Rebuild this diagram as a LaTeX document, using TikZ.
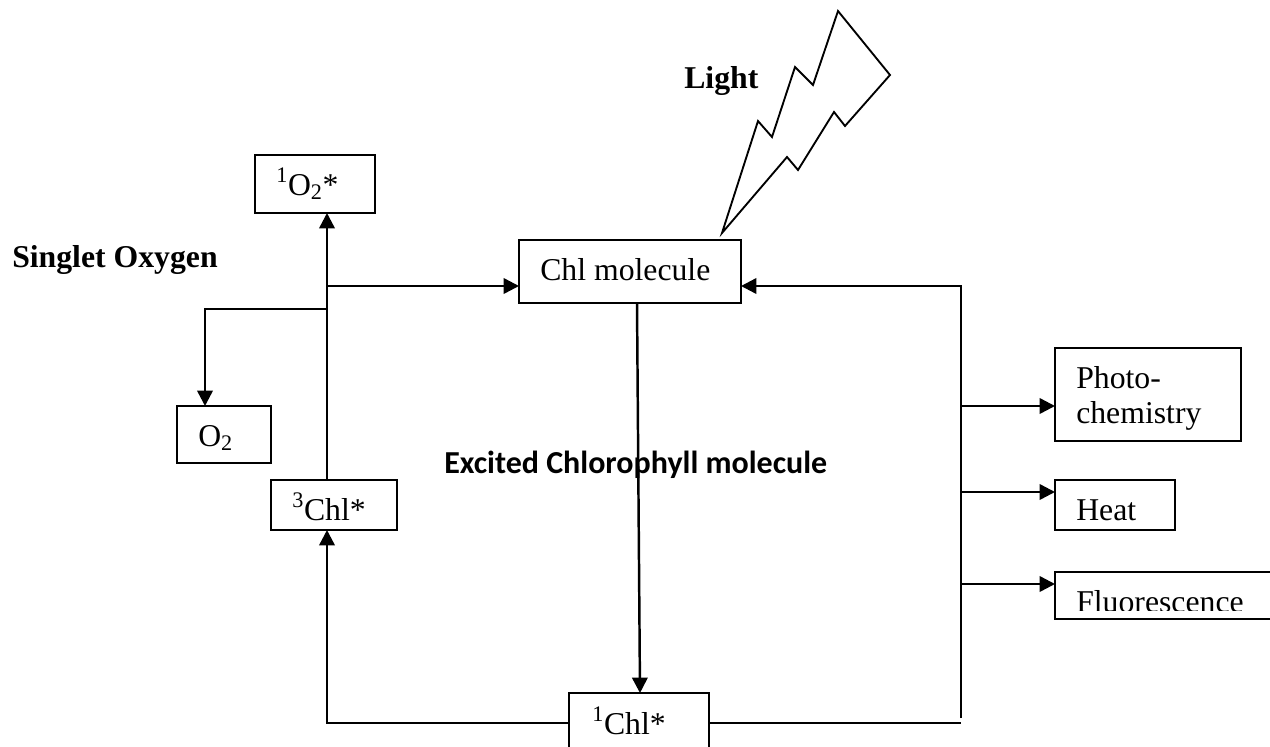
\documentclass[tikz,border=0pt]{standalone}
\usepackage{fontspec}
\setmainfont{Liberation Serif}
\newfontfamily\calib{Carlito}
\usetikzlibrary{arrows.meta,calc}
\tikzset{
  boxn/.style={draw=black,line width=1.7pt,inner sep=0pt},
  txt/.style={inner sep=0pt,anchor=base west,font=\fontsize{23.8}{28}\selectfont},
  boldt/.style={inner sep=0pt,anchor=base west,font=\fontsize{23.8}{28}\selectfont\bfseries},
  conn/.style={line width=1.85pt,draw=black},
  arr/.style={conn,-{Triangle[length=11.5pt,width=11.5pt]}},
  bolt/.style={draw=black,line width=1.4pt,line join=miter}
}
\newcommand{\rbox}[5]{\node[boxn,minimum width=#4*0.75pt-#2*0.75pt,minimum height=#5*0.75pt-#3*0.75pt] (#1) at ({(#2+#4)/2},{(#3+#5)/2}) {};}
\begin{document}
\begin{tikzpicture}[x=0.75pt,y=-0.75pt]
\clip (0,0) rectangle (1270,746);
\fill[white] (0,0) rectangle (1270,746);
% boxes
\rbox{otwo}{255}{155}{375}{213}
\rbox{o}{177}{406}{271}{463}
\rbox{tchl}{271}{480}{397}{530}
\rbox{chl}{519}{240}{741}{303}
\rbox{photo}{1055}{348}{1241}{441}
\rbox{heat}{1055}{480}{1175}{530}
\rbox{fluo}{1055}{572}{1300}{619}
\rbox{schl}{569}{693}{709}{753}
% texts
\node[txt] (totwo) at (276,195) {\textsuperscript{1}O\textsubscript{2}*};
\node[txt] (to) at (198,446) {O\textsubscript{2}};
\node[txt] (ttchl) at (292,520) {\textsuperscript{3}Chl*};
\node[txt] (tchlm) at (540,280) {Chl molecule};
\node[txt] (tphoto) at (1076,388) {Photo-};
\node[txt] (tchem) at (1076,423) {chemistry};
\node[txt] (theat) at (1076,520) {Heat};
\begin{scope}
\clip (1056,573) rectangle (1270,610);
\node[txt] (tfluo) at (1076,612) {Fluorescence};
\end{scope}
\node[txt] (tschl) at (592,734) {\textsuperscript{1}Chl*};
\node[boldt] (light) at (684,88) {Light};
\node[boldt] (sing) at (12,267) {Singlet Oxygen};
\node[inner sep=0pt,anchor=base west,font=\fontsize{24}{28}\selectfont\calib\bfseries] (exc) at (444,473) {Excited Chlorophyll molecule};
% junctions
\coordinate (ja) at (327,286);
\coordinate (jb) at (327,309);
\coordinate (jc) at (205,309);
\coordinate (td) at (327,480);
\coordinate (tu) at (327,213);
\coordinate (tl) at (327,530);
\coordinate (bl) at (327,723);
\coordinate (ca) at (637,303);
\coordinate (cb) at (640,693);
\coordinate (br) at (961,723);
\coordinate (brt) at (961,718);
\coordinate (tr) at (961,286);
\coordinate (cw) at (519,286);
\coordinate (ce) at (741,286);
\coordinate (ps) at (961,406);
\coordinate (pe) at (1055,406);
\coordinate (hs) at (961,492);
\coordinate (he) at (1055,492);
\coordinate (fs) at (961,584);
\coordinate (fe) at (1055,584);
\coordinate (oe) at (205,406);
% connectors
\draw[arr] (td) -- (tu);
\draw[arr] (ja) -- (cw);
\draw[arr] (jb) -- (jc) -- (oe);
\draw[arr] (schl.west) -- (bl) -- (tl);
\draw[arr] (ca) -- (cb);
\draw[conn] (schl.east) -- (br);
\draw[arr] (brt) -- (tr) -- (ce);
\draw[arr] (ps) -- (pe);
\draw[arr] (hs) -- (he);
\draw[arr] (fs) -- (fe);
% lightning
\draw[bolt] (722,233) -- (758,121) -- (772,137) -- (795,67) -- (813,85) -- (838,11) -- (890,75) -- (845,126) -- (834,112) -- (798,170) -- (787,157) -- cycle;
\end{tikzpicture}
\end{document}
